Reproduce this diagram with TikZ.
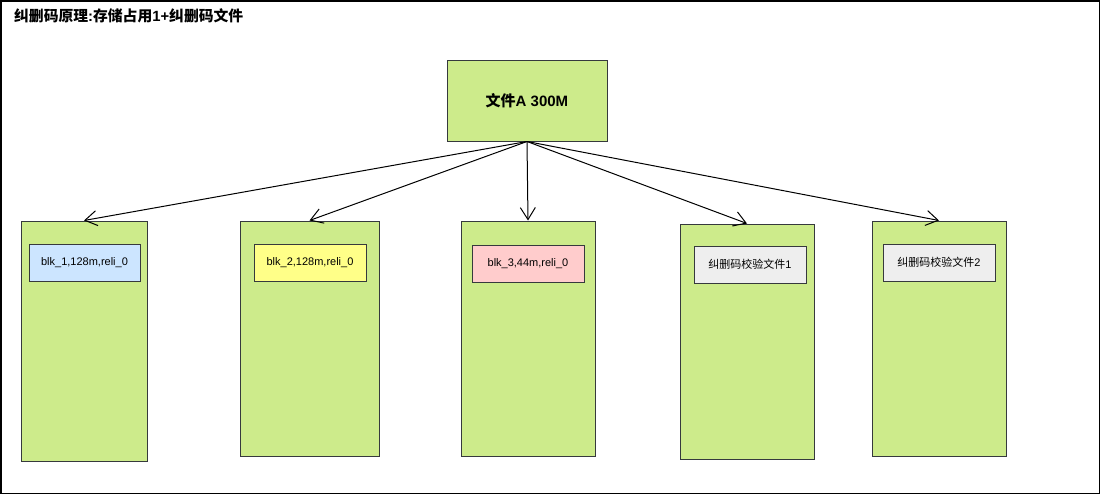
\documentclass[tikz,border=0pt]{standalone}
\usepackage{fontspec}
\setmainfont{Liberation Sans}
\newfontfamily\cjk{Noto Sans CJK SC}
\usetikzlibrary{arrows.meta}
\definecolor{diskgreen}{HTML}{CDEB8B}
\definecolor{edgegray}{HTML}{36393D}
\definecolor{chunkblue}{HTML}{CCE5FF}
\definecolor{chunkyellow}{HTML}{FFFF88}
\definecolor{chunkred}{HTML}{FFCCCC}
\definecolor{chunkgray}{HTML}{EEEEEE}
\tikzset{disk/.style={draw=edgegray,fill=diskgreen,line width=1pt,inner sep=0pt,minimum width=#1,minimum height=235pt}}
\tikzset{chunk/.style={draw=edgegray,line width=1pt,inner sep=0pt,minimum width=112pt,minimum height=37pt,font=\fontsize{11}{13}\selectfont}}
\tikzset{flow/.style={line width=1pt,-{Straight Barb[length=12pt,width=15pt]}}}

\begin{document}
\begin{tikzpicture}[x=1pt,y=-1pt]
      \useasboundingbox (0,0) rectangle (1101,495);
      \draw[line width=1.5pt] (1,1) rectangle (1099.5,493.5);
      \node[anchor=west,inner sep=0pt,font=\fontsize{14.8}{16}\selectfont\bfseries] (title) at (14,16) {{\cjk 纠删码原理}:{\cjk 存储占用}1+{\cjk 纠删码文件}};

      \node[disk=160pt,minimum height=80pt,font=\fontsize{15}{17}\selectfont\bfseries] (file) at (527,101) {{\cjk 文件}A 300M};

      \node[disk=126pt,minimum height=240pt] (d1) at (84,341) {};
      \node[disk=139pt] (d2) at (309.5,338.5) {};
      \node[disk=134pt] (d3) at (528,338.5) {};
      \node[disk=134pt] (d4) at (747,341.5) {};
      \node[disk=134pt] (d5) at (939,338.5) {};

      \node[chunk,fill=chunkblue,minimum width=111pt] (c1) at (84.5,262.5) {blk\_1,128m,reli\_0};
      \node[chunk,fill=chunkyellow] (c2) at (310,262.5) {blk\_2,128m,reli\_0};
      \node[chunk,fill=chunkred] (c3) at (528,263.5) {blk\_3,44m,reli\_0};
      \node[chunk,fill=chunkgray] (c4) at (750,264.5) {{\cjk 纠删码校验文件}1};
      \node[chunk,fill=chunkgray] (c5) at (939,262.5) {{\cjk 纠删码校验文件}2};

      \foreach \d in {d1,d2,d3,d4,d5}
        \draw[flow] (file.south) -- (\d.north);
    \end{tikzpicture}
\end{document}
